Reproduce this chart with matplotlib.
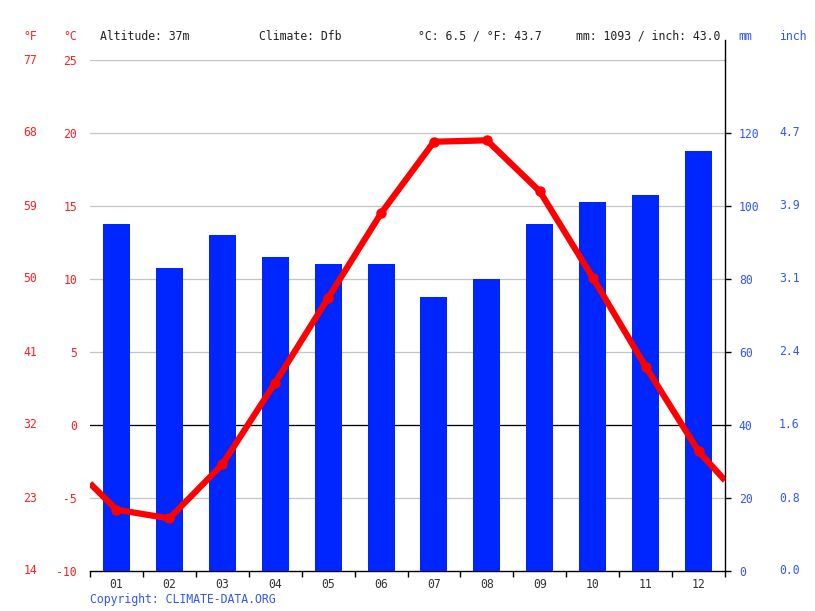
import matplotlib
matplotlib.use("Agg")
import matplotlib.pyplot as plt
from matplotlib.transforms import blended_transform_factory

months = ["01", "02", "03", "04", "05", "06", "07", "08", "09", "10", "11", "12"]
precip_mm = [95, 83, 92, 86, 84, 84, 75, 80, 95, 101, 103, 115]
temp_c = [-5.8, -6.4, -2.7, 2.9, 8.7, 14.5, 19.4, 19.5, 16.0, 10.1, 4.0, -1.8]
edge_left_c = -4.0
edge_right_c = -3.8
c_ticks = [-10, -5, 0, 5, 10, 15, 20, 25]
f_labels = ["14", "23", "32", "41", "50", "59", "68", "77"]
mm_ticks = [0, 20, 40, 60, 80, 100, 120]
inch_labels = ["0.0", "0.8", "1.6", "2.4", "3.1", "3.9", "4.7"]
header = ["Altitude: 37m", "Climate: Dfb", "°C: 6.5 / °F: 43.7", "mm: 1093 / inch: 43.0"]

FONT = "DejaVu Sans Mono"
FS = 8.3
RED = "#ff2020"
BLUE = "#0026ff"
LBLUE = "#3355ff"

W, H = 815, 611
fig = plt.figure(figsize=(W / 100, H / 100), dpi=100)
L, R, T, B = 90, 725, 60, 571
rect = [L / W, (H - B) / H, (R - L) / W, (B - T) / H]

ax = fig.add_axes(rect)
ax.set_xlim(0, 12)
ax.set_ylim(-10, 25)
for s in ["left", "right", "top"]:
    ax.spines[s].set_visible(False)
ax.spines["bottom"].set_color("black")
ax.spines["bottom"].set_linewidth(1.0)
for y in c_ticks[1:]:
    ax.axhline(y, color="#c4c4c4", lw=0.9, zorder=0)
ax.axhline(0, color="black", lw=0.9, zorder=1)

ax.set_yticks(c_ticks)
ax.set_yticklabels([str(v) for v in c_ticks], color=RED, family=FONT, fontsize=FS)
ax.tick_params(axis="y", length=0, pad=9.4)
ax.set_xticks(range(0, 13))
ax.set_xticklabels([])
ax.set_xticks([i + 0.5 for i in range(12)], minor=True)
ax.set_xticklabels(months, minor=True, family=FONT, fontsize=FS, color="#333333")
ax.tick_params(axis="x", which="major", length=4, width=1, direction="out", color="black")
ax.tick_params(axis="x", which="minor", length=0, pad=5)

trF = blended_transform_factory(ax.transAxes, ax.transData)
for c, f in zip(c_ticks, f_labels):
    ax.text((37 - L) / (R - L), c, f, transform=trF, ha="right", va="center",
            color=RED, family=FONT, fontsize=FS)

# bars
axb = ax.twinx()
axb.set_ylim(0, 140)
axb.set_xlim(0, 12)
axb.bar([i + 0.5 for i in range(12)], precip_mm, width=0.51, color=BLUE, zorder=2)
for s in ["left", "top", "bottom"]:
    axb.spines[s].set_visible(False)
axb.spines["right"].set_color("black")
axb.spines["right"].set_linewidth(1.0)
axb.set_yticks(mm_ticks)
axb.set_yticklabels([str(v) for v in mm_ticks], color=LBLUE, family=FONT, fontsize=FS)
axb.tick_params(axis="y", length=4, width=1, direction="out", pad=6.0, color="black")
axb.plot([1, 1], [1, (B - 40) / (B - T)], transform=axb.transAxes, color="black",
         lw=1.0, clip_on=False)
trI = blended_transform_factory(axb.transAxes, axb.transData)
for m, lab in zip(mm_ticks, inch_labels):
    axb.text(1 + (779 - R) / (R - L), m, lab, transform=trI, ha="left", va="center",
             color=LBLUE, family=FONT, fontsize=FS)

# temperature line
axl = ax.twinx()
axl.set_ylim(-10, 25)
axl.set_xlim(0, 12)
axl.axis("off")
xs = [0] + [i + 0.5 for i in range(12)] + [12]
ys = [edge_left_c] + temp_c + [edge_right_c]
axl.plot(xs, ys, color="#ff0000", lw=4.5, solid_capstyle="butt", zorder=3)
axl.plot([i + 0.5 for i in range(12)], temp_c, "o", color="#ff0000", ms=6.5, zorder=4)

# header texts
hy = 1 - 36 / H
fig.text(30 / W, hy, "°F", color=RED, family=FONT, fontsize=FS, ha="center", va="center")
fig.text(70 / W, hy, "°C", color=RED, family=FONT, fontsize=FS, ha="center", va="center")
for xpx, t in zip([100, 259, 418, 576], header):
    fig.text(xpx / W, hy, t, color="#222222", family=FONT, fontsize=FS, ha="left", va="center")
fig.text(738 / W, hy, "mm", color=LBLUE, family=FONT, fontsize=FS, ha="left", va="center")
fig.text(779 / W, hy, "inch", color=LBLUE, family=FONT, fontsize=FS, ha="left", va="center")
fig.text(90 / W, 1 - 599 / H, "Copyright: CLIMATE-DATA.ORG", color=LBLUE, family=FONT,
         fontsize=FS, ha="left", va="center")

fig.savefig("out.png", dpi=100)
